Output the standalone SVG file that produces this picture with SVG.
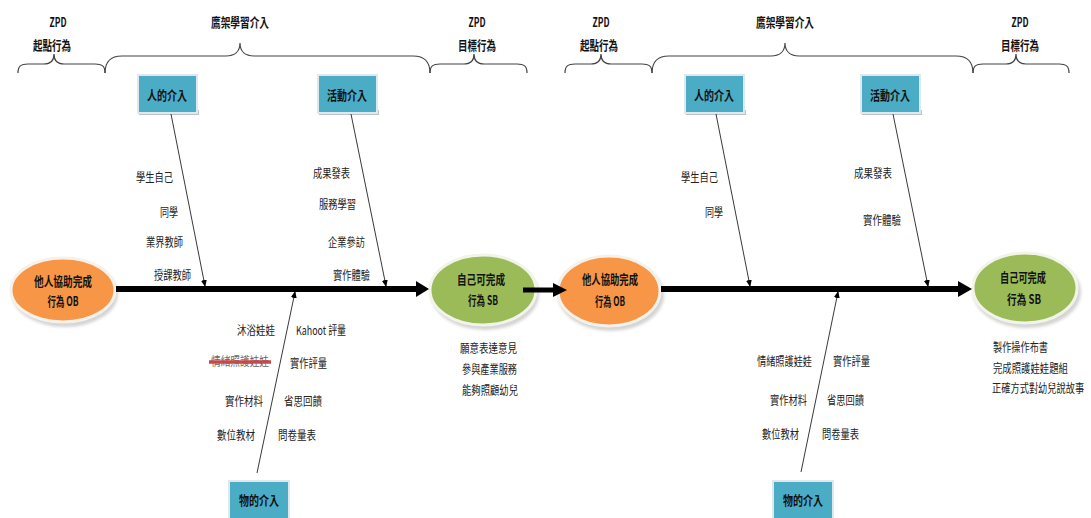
<svg xmlns="http://www.w3.org/2000/svg" width="1091" height="518" viewBox="0 0 1091 518">
<style>
.t{font-family:"Noto Sans CJK TC","Noto Sans",sans-serif;font-size:12px;fill:#222;dominant-baseline:central}
.b{font-family:"Noto Sans CJK TC","Noto Sans",sans-serif;font-size:13px;font-weight:bold;fill:#111;dominant-baseline:central;text-anchor:middle}
.brace{fill:none;stroke:#444;stroke-width:1.2}
.thin{fill:none;stroke:#222;stroke-width:0.9;marker-end:url(#ah)}
.thick{stroke:#000;stroke-width:6}
.box{fill:#4BACC6;stroke:#dfe8ec;stroke-width:2}
.bsh{fill:#b9c4c8}
.or{fill:#F79646;stroke:#f6f1ea;stroke-width:3}
.gr{fill:#9BBB59;stroke:#f2f4ea;stroke-width:3}
.esh{fill:#d4d4d4}
</style>
<defs>
<marker id="ah" markerWidth="7" markerHeight="7" refX="6" refY="3.5" orient="auto" markerUnits="userSpaceOnUse">
<path d="M0,0.5 L7,3.5 L0,6.5 Z" fill="#000"/>
</marker>
<filter id="blur" x="-20%" y="-20%" width="140%" height="140%"><feGaussianBlur stdDeviation="1.5"/></filter>
</defs>
<rect width="1091" height="518" fill="#fff"/>

<g id="headers">
<path class="brace" d="M18,73 C18,66 21,64 28,64 L44,64 C50,64 54,62 54,54 C54,62 58,64 64,64 L95,64 C102,64 105,66 105,73"/>
<path class="brace" d="M105,73 C105,62 110,56 122,56 L226,56 C234,56 240,52 240,43 C240,52 246,56 254,56 L413,56 C425,56 430,62 430,73"/>
<path class="brace" d="M430,73 C430,66 433,64 440,64 L464,64 C470,64 474,62 474,54 C474,62 478,64 484,64 L517,64 C524,64 527,66 527,73"/>
<path class="brace" d="M565,73 C565,66 568,64 575,64 L591,64 C597,64 601,62 601,54 C601,62 605,64 611,64 L642,64 C649,64 652,66 652,73"/>
<path class="brace" d="M652,73 C652,62 657,56 669,56 L771,56 C779,56 785,52 785,43 C785,52 791,56 799,56 L956,56 C968,56 973,62 973,73"/>
<path class="brace" d="M973,73 C973,66 976,64 983,64 L1006,64 C1012,64 1016,62 1016,54 C1016,62 1020,64 1026,64 L1059,64 C1066,64 1069,66 1069,73"/>
<text class="b" x="58" y="21" textLength="17" lengthAdjust="spacingAndGlyphs">ZPD</text>
<text class="b" x="52" y="44" textLength="38" lengthAdjust="spacingAndGlyphs">起點行為</text>
<text class="b" x="240" y="21" textLength="58" lengthAdjust="spacingAndGlyphs">鷹架學習介入</text>
<text class="b" x="477" y="21" textLength="17" lengthAdjust="spacingAndGlyphs">ZPD</text>
<text class="b" x="477" y="44" textLength="38" lengthAdjust="spacingAndGlyphs">目標行為</text>
<text class="b" x="601" y="21" textLength="17" lengthAdjust="spacingAndGlyphs">ZPD</text>
<text class="b" x="599" y="44" textLength="38" lengthAdjust="spacingAndGlyphs">起點行為</text>
<text class="b" x="785" y="21" textLength="58" lengthAdjust="spacingAndGlyphs">鷹架學習介入</text>
<text class="b" x="1020" y="21" textLength="17" lengthAdjust="spacingAndGlyphs">ZPD</text>
<text class="b" x="1020" y="44" textLength="38" lengthAdjust="spacingAndGlyphs">目標行為</text>
</g>

<g id="n-ob1">
<ellipse class="esh" cx="65" cy="294" rx="53" ry="33" filter="url(#blur)"/>
<ellipse class="or" cx="63" cy="290" rx="52" ry="32"/>
<text class="b" x="63" y="280" textLength="58" lengthAdjust="spacingAndGlyphs">他人協助完成</text>
<text class="b" x="63" y="300" textLength="31" lengthAdjust="spacingAndGlyphs">行為 OB</text>
</g>
<g id="n-sb1">
<ellipse class="esh" cx="485" cy="294" rx="54" ry="36" filter="url(#blur)"/>
<ellipse class="gr" cx="483" cy="290" rx="53" ry="35"/>
<text class="b" x="481" y="278" textLength="48" lengthAdjust="spacingAndGlyphs">自己可完成</text>
<text class="b" x="483" y="299" textLength="30" lengthAdjust="spacingAndGlyphs">行為 SB</text>
</g>
<g id="n-ob2">
<ellipse class="esh" cx="611" cy="295" rx="53" ry="36" filter="url(#blur)"/>
<ellipse class="or" cx="609" cy="291" rx="51" ry="35"/>
<text class="b" x="610" y="278" textLength="56" lengthAdjust="spacingAndGlyphs">他人協助完成</text>
<text class="b" x="610" y="300" textLength="30" lengthAdjust="spacingAndGlyphs">行為 OB</text>
</g>
<g id="n-sb2">
<ellipse class="esh" cx="1027" cy="292" rx="54" ry="36" filter="url(#blur)"/>
<ellipse class="gr" cx="1025" cy="288" rx="52" ry="35"/>
<text class="b" x="1023" y="276" textLength="46" lengthAdjust="spacingAndGlyphs">自己可完成</text>
<text class="b" x="1024" y="298" textLength="34" lengthAdjust="spacingAndGlyphs">行為 SB</text>
</g>

<g id="n-people1">
<rect class="bsh" x="139" y="110" width="60" height="5"/>
<rect class="box" x="138" y="75" width="59" height="38"/>
<text class="b" x="167" y="94" textLength="40" lengthAdjust="spacingAndGlyphs">人的介入</text>
</g>
<g id="n-activity1">
<rect class="bsh" x="319" y="110" width="60" height="5"/>
<rect class="box" x="318" y="75" width="59" height="38"/>
<text class="b" x="347" y="94" textLength="40" lengthAdjust="spacingAndGlyphs">活動介入</text>
</g>
<g id="n-object1">
<rect class="box" x="229" y="481" width="60" height="40"/>
<text class="b" x="259" y="499" textLength="40" lengthAdjust="spacingAndGlyphs">物的介入</text>
</g>
<g id="n-people2">
<rect class="bsh" x="686" y="110" width="60" height="5"/>
<rect class="box" x="685" y="75" width="59" height="38"/>
<text class="b" x="714" y="94" textLength="40" lengthAdjust="spacingAndGlyphs">人的介入</text>
</g>
<g id="n-activity2">
<rect class="bsh" x="862" y="110" width="60" height="5"/>
<rect class="box" x="861" y="75" width="59" height="38"/>
<text class="b" x="890" y="94" textLength="40" lengthAdjust="spacingAndGlyphs">活動介入</text>
</g>
<g id="n-object2">
<rect class="box" x="773" y="481" width="60" height="40"/>
<text class="b" x="803" y="499" textLength="40" lengthAdjust="spacingAndGlyphs">物的介入</text>
</g>

<g id="connectors">
<line class="thick" x1="116" y1="289" x2="417" y2="289"/>
<polygon points="416,281 429,289 416,297" fill="#000"/>
<line class="thick" x1="523" y1="290" x2="554" y2="290" style="stroke-width:5"/>
<polygon points="553,283 567,290 553,297" fill="#000"/>
<line class="thick" x1="661" y1="289" x2="960" y2="289"/>
<polygon points="958,281 972,289 958,297" fill="#000"/>
<line class="thin" x1="171" y1="114" x2="205" y2="286"/>
<line class="thin" x1="351" y1="114" x2="386" y2="286"/>
<line class="thin" x1="257" y1="473" x2="295" y2="292"/>
<line class="thin" x1="716" y1="114" x2="750" y2="286"/>
<line class="thin" x1="893" y1="114" x2="928" y2="286"/>
<line class="thin" x1="801" y1="472" x2="838" y2="292"/>
</g>

<g id="labels-left">
<text class="t" x="136" y="176" textLength="37" lengthAdjust="spacingAndGlyphs">學生自己</text>
<text class="t" x="160" y="211" textLength="18" lengthAdjust="spacingAndGlyphs">同學</text>
<text class="t" x="146" y="241" textLength="37" lengthAdjust="spacingAndGlyphs">業界教師</text>
<text class="t" x="154" y="274" textLength="37" lengthAdjust="spacingAndGlyphs">授課教師</text>
<text class="t" x="313" y="172" textLength="37" lengthAdjust="spacingAndGlyphs">成果發表</text>
<text class="t" x="319" y="203" textLength="37" lengthAdjust="spacingAndGlyphs">服務學習</text>
<text class="t" x="328" y="241" textLength="37" lengthAdjust="spacingAndGlyphs">企業參訪</text>
<text class="t" x="333" y="274" textLength="37" lengthAdjust="spacingAndGlyphs">實作體驗</text>
<text class="t" x="237" y="329" textLength="38" lengthAdjust="spacingAndGlyphs">沐浴娃娃</text>
<text class="t" x="296" y="329" textLength="50" lengthAdjust="spacingAndGlyphs">Kahoot 評量</text>
<text class="t" x="211" y="360" textLength="58" lengthAdjust="spacingAndGlyphs" style="fill:#666">情緒照護娃娃</text>
<line x1="210" y1="364" x2="271" y2="364" stroke="#999" stroke-width="4" opacity="0.5" filter="url(#blur)"/>
<line x1="209" y1="362" x2="271" y2="362" stroke="#C9474A" stroke-width="3.5"/>
<text class="t" x="290" y="362" textLength="37" lengthAdjust="spacingAndGlyphs">實作評量</text>
<text class="t" x="225" y="400" textLength="38" lengthAdjust="spacingAndGlyphs">實作材料</text>
<text class="t" x="284" y="400" textLength="38" lengthAdjust="spacingAndGlyphs">省思回饋</text>
<text class="t" x="217" y="434" textLength="38" lengthAdjust="spacingAndGlyphs">數位教材</text>
<text class="t" x="278" y="434" textLength="38" lengthAdjust="spacingAndGlyphs">問卷量表</text>
<text class="t" x="460" y="347" textLength="57" lengthAdjust="spacingAndGlyphs">願意表達意見</text>
<text class="t" x="462" y="368" textLength="55" lengthAdjust="spacingAndGlyphs">參與產業服務</text>
<text class="t" x="462" y="389" textLength="56" lengthAdjust="spacingAndGlyphs">能夠照顧幼兒</text>
</g>

<g id="labels-right">
<text class="t" x="681" y="176" textLength="37" lengthAdjust="spacingAndGlyphs">學生自己</text>
<text class="t" x="705" y="211" textLength="18" lengthAdjust="spacingAndGlyphs">同學</text>
<text class="t" x="854" y="172" textLength="38" lengthAdjust="spacingAndGlyphs">成果發表</text>
<text class="t" x="863" y="219" textLength="38" lengthAdjust="spacingAndGlyphs">實作體驗</text>
<text class="t" x="757" y="360" textLength="55" lengthAdjust="spacingAndGlyphs">情緒照護娃娃</text>
<text class="t" x="833" y="360" textLength="37" lengthAdjust="spacingAndGlyphs">實作評量</text>
<text class="t" x="770" y="399" textLength="37" lengthAdjust="spacingAndGlyphs">實作材料</text>
<text class="t" x="827" y="399" textLength="37" lengthAdjust="spacingAndGlyphs">省思回饋</text>
<text class="t" x="762" y="433" textLength="37" lengthAdjust="spacingAndGlyphs">數位教材</text>
<text class="t" x="822" y="433" textLength="37" lengthAdjust="spacingAndGlyphs">問卷量表</text>
<text class="t" x="993" y="346" textLength="55" lengthAdjust="spacingAndGlyphs">製作操作布書</text>
<text class="t" x="993" y="367" textLength="75" lengthAdjust="spacingAndGlyphs">完成照護娃娃題組</text>
<text class="t" transform="translate(992,388) scale(0.77,1)" x="0" y="0">正確方式對幼兒說故事</text>
</g>
</svg>
